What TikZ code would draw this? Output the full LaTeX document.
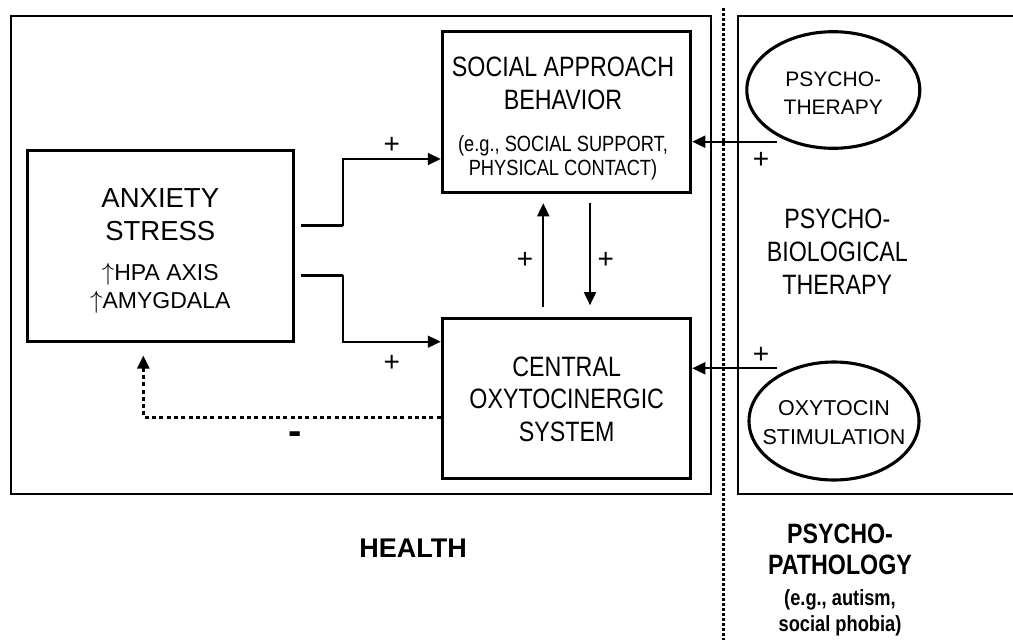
\documentclass[tikz,border=0pt]{standalone}
\usepackage{fontspec}
\setmainfont{Liberation Sans}
\newfontfamily\nar{Liberation Sans}[FakeStretch=0.83]
\usetikzlibrary{arrows.meta,shapes.geometric,calc}
\begin{document}
\begin{tikzpicture}[x=1pt,y=-1pt,
  frame/.style={draw, line width=2.3pt, inner sep=0pt},
  box/.style={draw, line width=3.1pt, inner sep=0pt},
  oval/.style={draw, ellipse, line width=3.1pt, inner sep=0pt},
  conn/.style={line width=1.8pt},
  thickln/.style={line width=3pt},
  arr/.style={-{Triangle[length=13pt,width=12pt]}},
  fb/.style={line width=2.6pt, dash pattern=on 4pt off 3.3pt},
  txt/.style={inner sep=0pt, align=center, anchor=north},
  plus/.style={inner sep=0pt, font=\fontsize{28}{30}\selectfont},
]
\useasboundingbox (0,0) rectangle (1013,640);

% frames
\node[frame, minimum width=700pt, minimum height=478.3pt] (health) at (360.7,254.85) {};
\draw[line width=2.3pt] (1013,15.7) -- (738.3,15.7) -- (738.3,494) -- (1013,494);
\draw[line width=3.2pt, dash pattern=on 2.8pt off 2.2pt] (723.3,8) -- (723.3,640);

% boxes
\node[box, minimum width=248.4pt, minimum height=160.6pt] (soc) at (566.5,112) {};
\node[box, minimum width=266pt, minimum height=191pt] (anx) at (160.3,246.2) {};
\node[box, minimum width=248.4pt, minimum height=160pt] (cen) at (566.5,398.3) {};
\node[oval, minimum width=173pt, minimum height=116.6pt] (psy) at (833.3,90) {};
\node[oval, minimum width=170pt, minimum height=118pt] (oxy) at (834,421) {};

% texts
\node[txt, font=\fontsize{27.5}{32.7}\selectfont] (anxT) at (160.3,188.3) {ANXIETY\\STRESS};
\node[txt, font=\fontsize{23}{27.3}\selectfont] (anxS) at (160.3,263.3) {$\uparrow$HPA AXIS\\$\uparrow$AMYGDALA};
\node[txt, font=\nar\fontsize{28}{33.3}\selectfont] (socT) at (563,56.7) {SOCIAL APPROACH\\BEHAVIOR};
\node[txt, font=\nar\fontsize{22}{24}\selectfont] (socS) at (563,135) {(e.g., SOCIAL SUPPORT,\\PHYSICAL CONTACT)};
\node[txt, font=\nar\fontsize{28}{32.5}\selectfont] (cenT) at (566.7,356.7) {CENTRAL\\OXYTOCINERGIC\\SYSTEM};
\node[txt, font=\nar\fontsize{28}{33.3}\selectfont] (pbT) at (837.3,208.3) {PSYCHO-\\BIOLOGICAL\\THERAPY};
\node[txt, font=\fontsize{21}{27.7}\selectfont] (psyT) at (833.3,71.7) {PSYCHO-\\THERAPY};
\node[txt, font=\fontsize{21.5}{29.4}\selectfont] (oxyT) at (834,399.8) {OXYTOCIN\\STIMULATION};
\node[inner sep=0pt, font=\bfseries\fontsize{27}{30}\selectfont] (healthT) at (413,548.3) {HEALTH};
\node[txt, font=\nar\bfseries\fontsize{28}{31.7}\selectfont] (pathT) at (840,523.3) {PSYCHO-\\PATHOLOGY};
\node[txt, font=\nar\bfseries\fontsize{22}{25.7}\selectfont] (pathS) at (840,589.3) {(e.g., autism,\\social phobia)};

% connectors
\coordinate (a1) at (301,225.7);
\coordinate (k1) at (343.3,225.7);
\draw[thickln] (a1) -- (k1);
\draw[conn, arr] (k1) |- (soc.west |- 0,159);
\coordinate (a2) at (301,275);
\coordinate (k2) at (343.3,275);
\draw[thickln] (a2) -- (k2);
\draw[conn, arr] (k2) |- (cen.west |- 0,341.7);

\draw[conn, arr, shorten <=10pt, shorten >=9.4pt] (cen.north -| 543.3,0) -- (soc.south -| 543.3,0);
\draw[conn, arr, shorten <=8.7pt, shorten >=11.6pt] (soc.south -| 590,0) -- (cen.north -| 590,0);

\coordinate (p1) at (776.7,141.7);
\draw[conn, arr] (p1) -- (p1 -| soc.east);
\coordinate (o1) at (776.7,368.3);
\draw[conn, arr] (o1) -- (o1 -| cen.east);

\draw[fb, arr] (cen.west |- 0,417.3) -| ($(anx.south -| 143.3,0)+(0,12.3)$);

% signs
\node[plus] (pl1) at (391.7,145.7) {+};
\node[plus] (pl2) at (391.7,363.3) {+};
\node[plus] (pl3) at (525,260) {+};
\node[plus] (pl4) at (605.7,260) {+};
\node[plus] (pl5) at (761,160) {+};
\node[plus] (pl6) at (761,355) {+};
\node[inner sep=0pt, font=\bfseries\fontsize{40}{40}\selectfont] (mi) at (295,438) {-};
\end{tikzpicture}
\end{document}
